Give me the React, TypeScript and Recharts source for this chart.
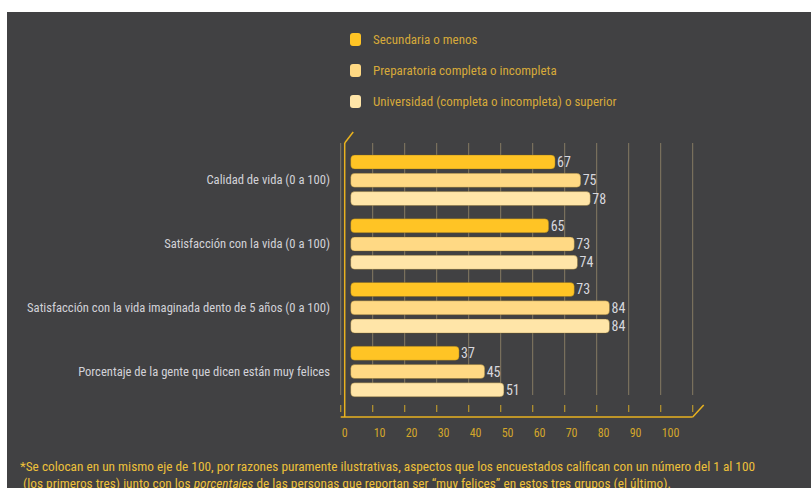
import React from "react";
import { BarChart, Bar, XAxis, YAxis, CartesianGrid, LabelList, ReferenceLine } from "recharts";

const categories = [
  "Calidad de vida (0 a 100)",
  "Satisfacción con la vida (0 a 100)",
  "Satisfacción con la vida imaginada dento de 5 años (0 a 100)",
  "Porcentaje de la gente que dicen están muy felices",
];
const secundaria = [67, 65, 73, 37];
const preparatoria = [75, 73, 84, 45];
const universidad = [78, 74, 84, 51];
const xTicks = [0, 10, 20, 30, 40, 50, 60, 70, 80, 90, 100, 110];
const xLabelMax = 100;

const seriesNames = [
  "Secundaria o menos",
  "Preparatoria completa o incompleta",
  "Universidad (completa o incompleta) o superior",
];
const colors = ["#FFC425", "#FFD984", "#FFE5A8"];

const data = categories.map((c, i) => ({
  name: c,
  s1: secundaria[i],
  s2: preparatoria[i],
  s3: universidad[i],
}));

const FONT = "'Liberation Sans Narrow', 'Roboto Condensed', Roboto, sans-serif";
const GOLD = "#E9B21F";

const BarShape = (props: any) => {
  const { x, y, width, height, fill } = props;
  const inset = 10;
  const w = Math.max(0, width - inset);
  return (
    <rect
      x={x + inset}
      y={y}
      width={w}
      height={height}
      rx={4}
      ry={4}
      fill={fill}
      stroke="rgba(120,95,30,0.45)"
      strokeWidth={0.8}
    />
  );
};

const GridLine = (props: any) => {
  const { x1, y1, x2, y2 } = props;
  const top = Math.min(y1, y2);
  const bottom = Math.max(y1, y2);
  return (
    <g key={props.key ?? `g-${x1}`}>
      <line x1={x1} x2={x2} y1={top} y2={bottom - 22} stroke="#857A63" strokeWidth={1} />
      <line x1={x1} x2={x2} y1={bottom - 12} y2={bottom - 5} stroke="#B8962E" strokeWidth={1.2} />
    </g>
  );
};

const YAxisDecor = (props: any) => {
  const { x1, y1, y2 } = props;
  const top = Math.min(y1, y2);
  const bottom = Math.max(y1, y2);
  const ax = x1 + 4;
  return (
    <g>
      <line x1={ax} x2={ax} y1={top} y2={bottom} stroke={GOLD} strokeWidth={1.5} />
      <line x1={ax} x2={ax + 8.5} y1={top} y2={top - 11} stroke={GOLD} strokeWidth={1.5} />
    </g>
  );
};

const RightDecor = (props: any) => {
  const { x1, y1, y2 } = props;
  const bottom = Math.max(y1, y2);
  return (
    <line x1={x1} x2={x1 + 11} y1={bottom} y2={bottom - 12} stroke={GOLD} strokeWidth={1.5} />
  );
};

const XTick = (props: any) => {
  const { x, y, payload } = props;
  if (payload.value > xLabelMax) return <g />;
  return (
    <text x={x + 1} y={y + 20} textAnchor="start" fill="#D4A62A" fontSize={12} fontFamily={FONT}>
      {payload.value}
    </text>
  );
};

const YTick = (props: any) => {
  const { x, y, payload } = props;
  return (
    <text x={x} y={y} dy={4.5} textAnchor="end" fill="#D2D2D8" fontSize={12.6} fontFamily={FONT}>
      {payload.value}
    </text>
  );
};

export default function App() {
  return (
    <div style={{ position: "absolute", left: 0, top: 0, width: 811, height: 488, background: "#ffffff", overflow: "hidden" }}>
      <div style={{ position: "absolute", left: 7, top: 12, width: 804, height: 476, background: "#414143" }} />
      <div style={{ position: "absolute", left: 0, top: 0 }}>
        <BarChart
          width={811}
          height={488}
          data={data}
          layout="vertical"
          margin={{ top: 143, right: 118.3, bottom: 41, left: 140.7 }}
          barSize={14}
          barGap={4.3}
        >
          <CartesianGrid horizontal={false} vertical={GridLine as any} />
          <XAxis
            type="number"
            domain={[0, 110]}
            ticks={xTicks}
            interval={0}
            height={30}
            tickSize={0}
            tickMargin={0}
            tickLine={false}
            axisLine={{ stroke: GOLD, strokeWidth: 1.5 }}
            tick={XTick}
            allowDataOverflow
          />
          <YAxis
            type="category"
            dataKey="name"
            width={200}
            padding={{ top: 5, bottom: 14 }}
            axisLine={false}
            tickLine={false}
            tickSize={0}
            tickMargin={10.7}
            tick={YTick}
            interval={0}
          />
          <ReferenceLine x={0} shape={YAxisDecor} ifOverflow="visible" />
          <ReferenceLine x={110} shape={RightDecor} ifOverflow="visible" />
          {(["s1", "s2", "s3"] as const).map((k, i) => (
            <Bar key={k} dataKey={k} name={seriesNames[i]} fill={colors[i]} shape={BarShape} isAnimationActive={false}>
              <LabelList dataKey={k} position="right" offset={2} fill="#D8D8DE" fontSize={14} fontFamily={FONT} />
            </Bar>
          ))}
        </BarChart>
      </div>
      <div style={{ position: "absolute", left: 350, top: 31, fontFamily: FONT, fontSize: 13, color: "#D6A93A" }}>
        {seriesNames.map((n, i) => (
          <div key={n} style={{ display: "flex", alignItems: "center", height: 31 }}>
            <div style={{ width: 11, height: 13, borderRadius: 3, background: colors[i], marginRight: 12, marginTop: -15 }} />
            <div style={{ marginTop: -15 }}>{n}</div>
          </div>
        ))}
      </div>
      <div
        style={{
          position: "absolute",
          left: 20,
          top: 458,
          fontFamily: FONT,
          fontSize: 13.3,
          lineHeight: "17px",
          color: "#EDC03A",
          whiteSpace: "nowrap",
        }}
      >
        <div>*Se colocan en un mismo eje de 100, por razones puramente ilustrativas, aspectos que los encuestados califican con un número del 1 al 100</div>
        <div>
          &nbsp;(los primeros tres) junto con los <i>porcentajes</i> de las personas que reportan ser “muy felices” en estos tres grupos (el último).
        </div>
      </div>
    </div>
  );
}
